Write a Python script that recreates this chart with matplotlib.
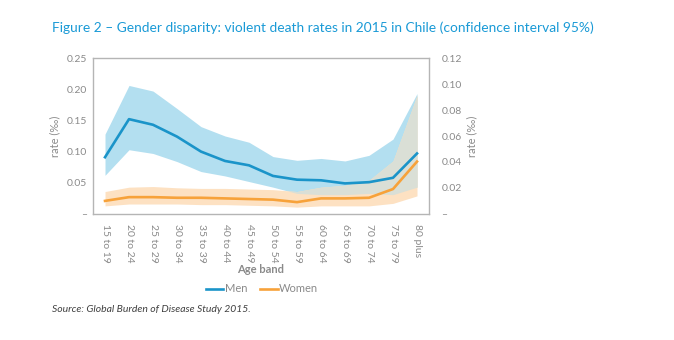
import numpy as np
import matplotlib
matplotlib.use("Agg")
import matplotlib.pyplot as plt

age_bands = [
    "15 to 19", "20 to 24", "25 to 29", "30 to 34", "35 to 39",
    "40 to 44", "45 to 49", "50 to 54", "55 to 59", "60 to 64",
    "65 to 69", "70 to 74", "75 to 79", "80 plus",
]

men_rate = [0.091, 0.152, 0.143, 0.124, 0.100, 0.085, 0.078, 0.061,
            0.055, 0.054, 0.049, 0.051, 0.058, 0.097]
men_upper = [0.128, 0.206, 0.197, 0.169, 0.140, 0.125, 0.115, 0.092,
             0.086, 0.089, 0.085, 0.094, 0.120, 0.193]
men_lower = [0.062, 0.103, 0.097, 0.084, 0.068, 0.061, 0.052, 0.043,
             0.033, 0.031, 0.031, 0.033, 0.031, 0.043]

women_rate = [0.021, 0.027, 0.027, 0.026, 0.026, 0.025, 0.024, 0.023,
              0.019, 0.025, 0.025, 0.026, 0.040, 0.084]
women_upper = [0.036, 0.043, 0.044, 0.042, 0.041, 0.041, 0.040, 0.039,
               0.036, 0.043, 0.046, 0.054, 0.085, 0.190]
women_lower = [0.013, 0.016, 0.016, 0.016, 0.015, 0.015, 0.014, 0.013,
               0.011, 0.013, 0.013, 0.013, 0.017, 0.029]

left_ticks = [0, 0.05, 0.10, 0.15, 0.20, 0.25]
left_labels = ["\u2013", "0.05", "0.10", "0.15", "0.20", "0.25"]
right_ticks = [0, 0.02, 0.04, 0.06, 0.08, 0.10, 0.12]
right_labels = ["\u2013", "0.02", "0.04", "0.06", "0.08", "0.10", "0.12"]

MEN = "#1a94c9"
MEN_BAND = "#b3dff0"
WOMEN = "#f7a23a"
WOMEN_BAND = "#fde1c2"
OVERLAP = "#dadfd6"
GREY = "#8a8a8a"

plt.rcParams["font.family"] = ["Lato", "DejaVu Sans"]

fig = plt.figure(figsize=(6.74, 3.40), dpi=100)
ax = fig.add_axes([0.138, 0.3706, 0.4985, 0.4588])

x = np.arange(len(age_bands))
m_hi, m_lo = np.array(men_upper), np.array(men_lower)
w_hi, w_lo = np.array(women_upper), np.array(women_lower)

# confidence bands, with the shared part drawn in grey
ax.fill_between(x, m_lo, m_hi, color=MEN_BAND, lw=0)
ax.fill_between(x, w_lo, w_hi, color=WOMEN_BAND, lw=0)
ov_hi = np.minimum(m_hi, w_hi)
ov_lo = np.maximum(m_lo, w_lo)
ax.fill_between(x, ov_lo, ov_hi, where=ov_hi > ov_lo, interpolate=True,
                color=OVERLAP, lw=0)

ax.plot(x, men_rate, color=MEN, lw=1.9, label="Men")
ax.plot(x, women_rate, color=WOMEN, lw=1.9, label="Women")

ax.set_xlim(-0.5, len(age_bands) - 0.5)
ax.set_ylim(0, 0.25)
ax.set_yticks(left_ticks)
ax.set_yticklabels(left_labels)
ax.set_xticks(x)
ax.set_xticklabels(age_bands, rotation=-90)
ax.tick_params(length=0, labelsize=7.5, labelcolor=GREY, pad=4)
ax.tick_params(axis="x", pad=7)
for s in ax.spines.values():
    s.set_color("#b5b5b5")
    s.set_linewidth(1.0)
ax.set_ylabel("rate (\u2030)", color=GREY, fontsize=8, labelpad=5)
ax.set_xlabel("Age band", color=GREY, fontsize=8, fontweight="bold", labelpad=1)

ax2 = ax.twinx()
ax2.set_ylim(0, 0.12)
ax2.set_yticks(right_ticks)
ax2.set_yticklabels(right_labels)
ax2.tick_params(length=0, labelsize=7.5, labelcolor=GREY, pad=9)
for s in ax2.spines.values():
    s.set_visible(False)
fig.text(472 / 674, 1 - 136 / 340, "rate (\u2030)", color=GREY, fontsize=8,
         rotation=90, ha="center", va="center")

fig.legend(loc="center", bbox_to_anchor=(262 / 674, 1 - 289 / 340), ncol=2,
           frameon=False, fontsize=8, labelcolor=GREY, handlelength=1.6,
           handletextpad=0.1, columnspacing=1.2)

fig.text(52 / 674, 1 - 28 / 340,
         "Figure 2 \u2013 Gender disparity: violent death rates in 2015 in Chile (confidence interval 95%)",
         color="#1a9ad6", fontsize=9.9, va="center", ha="left")
fig.text(52 / 674, 1 - 309 / 340, "Source: Global Burden of Disease Study 2015.",
         color="#404040", fontsize=7.5, style="italic", va="center", ha="left")

fig.savefig("out.png", dpi=100)
